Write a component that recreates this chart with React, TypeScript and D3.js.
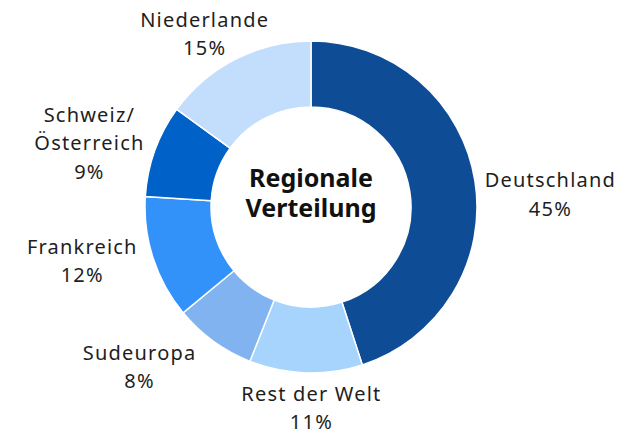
import * as d3 from "d3";
import React from "react";

const regions = ["Deutschland", "Rest der Welt", "Sudeuropa", "Frankreich", "Schweiz/\nÖsterreich", "Niederlande"];
const shares = [45, 11, 8, 12, 9, 15];
const colors = ["#0f4c96", "#a6d4fd", "#80b3f0", "#3392fa", "#0061c8", "#c3ddfc"];
// label tweaks relative to the slice centroid (dx, dy)
const labelNudge = [
  [32, 13],
  [7, -16],
  [-48, -17],
  [-29, -18],
  [-24, -14],
  [-11, 7],
];
const titleLines = ["Regionale", "Verteilung"];

const width = 637;
const height = 432;
const cx = 311;
const cy = 207;
const outerR = 166;
const innerR = 100;
const labelR = 210;
const lineH = 28.5;

const App = () => {
  const pie = d3.pie<number>().sort(null).value((d) => d);
  const arcs = pie(shares);
  const arcFunc = d3.arc<d3.PieArcDatum<number>>().innerRadius(innerR).outerRadius(outerR);
  const labelArc = d3.arc<d3.PieArcDatum<number>>().innerRadius(labelR).outerRadius(labelR);

  return (
    <svg
      width={width}
      height={height}
      style={{ position: "absolute", left: 0, top: 0, background: "#fff" }}
      fontFamily="'Noto Sans', sans-serif"
    >
      <g transform={`translate(${cx},${cy})`}>
        {arcs.map((a, i) => (
          <path key={i} d={arcFunc(a) || ""} fill={colors[i]} stroke="#fff" strokeWidth={1.5} />
        ))}
        {arcs.map((a, i) => {
          const [x, y] = labelArc.centroid(a);
          const lines = [...regions[i].split("\n"), `${shares[i]}%`];
          return (
            <text
              key={i}
              x={x + labelNudge[i][0]}
              y={y + labelNudge[i][1]}
              textAnchor="middle"
              fontSize={20}
              letterSpacing={1.2}
              fill="#1e1e1e"
            >
              {lines.map((l, j) => (
                <tspan key={j} x={x + labelNudge[i][0]} dy={j === 0 ? 0 : lineH}>
                  {l}
                </tspan>
              ))}
            </text>
          );
        })}
        <text textAnchor="middle" fontSize={25} fontWeight="bold" fill="#111">
          {titleLines.map((l, j) => (
            <tspan key={j} x={0} y={-20 + j * 30}>
              {l}
            </tspan>
          ))}
        </text>
      </g>
    </svg>
  );
};

export default App;
